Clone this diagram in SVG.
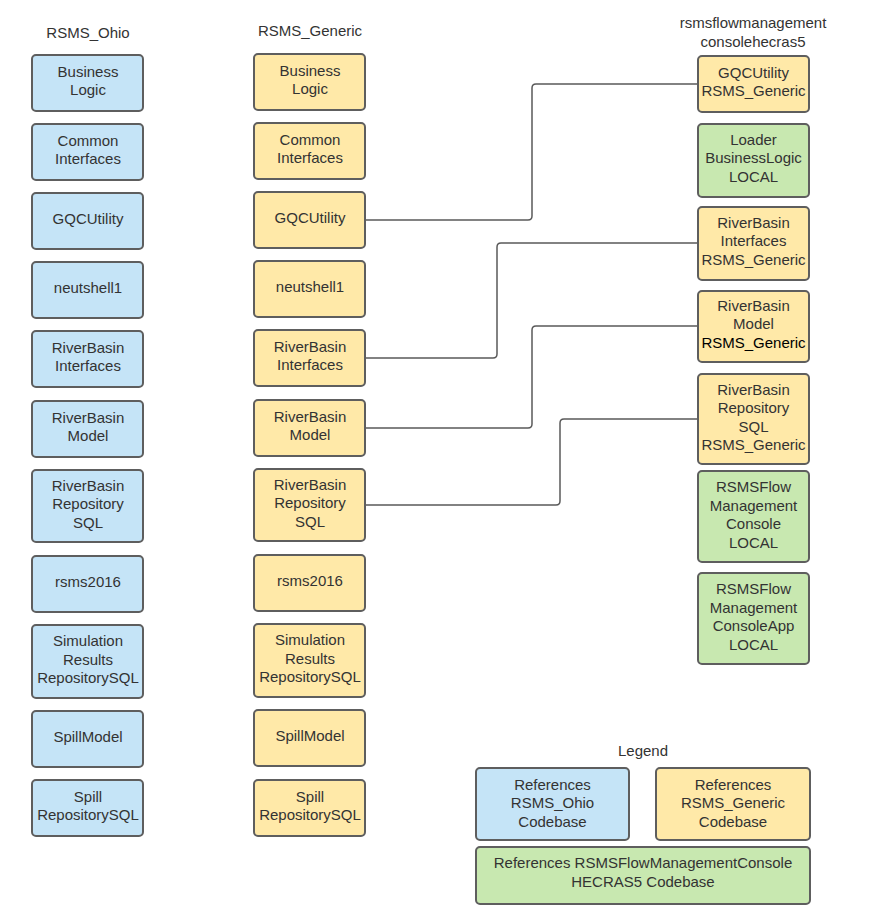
<svg xmlns="http://www.w3.org/2000/svg" width="875" height="913" viewBox="0 0 875 913">
<style>
.b{stroke:#5e5e5e;stroke-width:2;}
.blue{fill:#c5e4f7;}
.yel{fill:#ffe9a8;}
.grn{fill:#c8e8b0;}
text{font-family:"Liberation Sans",Arial,sans-serif;font-size:15px;fill:#333;text-anchor:middle;}
.h{font-size:15px;}
.c{fill:none;stroke:#5a5a5a;stroke-width:1.5;}
</style>
<rect width="875" height="913" fill="#fff"/>
<g id="headers">
<text class="h" x="88" y="38">RSMS_Ohio</text>
<text class="h" x="310" y="36">RSMS_Generic</text>
<text class="h" x="753" y="28">rsmsflowmanagement</text>
<text class="h" x="753" y="47">consolehecras5</text>
<text class="h" x="643" y="756">Legend</text>
</g>
<g id="connectors">
<path class="c" d="M366,220 H528 Q532,220 532,216 V88 Q532,84 536,84 H698"/>
<path class="c" d="M366,358 H493 Q497,358 497,354 V247 Q497,243 501,243 H698"/>
<path class="c" d="M366,428 H528 Q532,428 532,424 V330 Q532,326 536,326 H698"/>
<path class="c" d="M366,505 H556 Q560,505 560,501 V423 Q560,419 564,419 H698"/>
</g>
<!-- RSMS_Ohio column -->
<g id="ohio-businesslogic"><rect class="b blue" x="32" y="55" width="111" height="56" rx="4"/><text x="88" y="76.5">Business</text><text x="88" y="95">Logic</text></g>
<g id="ohio-commoninterfaces"><rect class="b blue" x="32" y="124" width="111" height="56" rx="4"/><text x="88" y="145.5">Common</text><text x="88" y="164">Interfaces</text></g>
<g id="ohio-gqcutility"><rect class="b blue" x="32" y="193" width="111" height="56" rx="4"/><text x="88" y="224">GQCUtility</text></g>
<g id="ohio-neutshell1"><rect class="b blue" x="32" y="262" width="111" height="56" rx="4"/><text x="88" y="293">neutshell1</text></g>
<g id="ohio-riverbasininterfaces"><rect class="b blue" x="32" y="331" width="111" height="56" rx="4"/><text x="88" y="352.5">RiverBasin</text><text x="88" y="371">Interfaces</text></g>
<g id="ohio-riverbasinmodel"><rect class="b blue" x="32" y="401" width="111" height="56" rx="4"/><text x="88" y="422.5">RiverBasin</text><text x="88" y="441">Model</text></g>
<g id="ohio-riverbasinrepositorysql"><rect class="b blue" x="32" y="470" width="111" height="72" rx="4"/><text x="88" y="490.5">RiverBasin</text><text x="88" y="509">Repository</text><text x="88" y="527.5">SQL</text></g>
<g id="ohio-rsms2016"><rect class="b blue" x="32" y="556" width="111" height="56" rx="4"/><text x="88" y="587">rsms2016</text></g>
<g id="ohio-simulationresults"><rect class="b blue" x="32" y="625" width="111" height="73" rx="4"/><text x="88" y="646">Simulation</text><text x="88" y="664.5">Results</text><text x="88" y="683">RepositorySQL</text></g>
<g id="ohio-spillmodel"><rect class="b blue" x="32" y="711" width="111" height="56" rx="4"/><text x="88" y="742">SpillModel</text></g>
<g id="ohio-spillrepositorysql"><rect class="b blue" x="32" y="780" width="111" height="56" rx="4"/><text x="88" y="801.5">Spill</text><text x="88" y="820">RepositorySQL</text></g>
<!-- RSMS_Generic column -->
<g id="gen-businesslogic"><rect class="b yel" x="254" y="54" width="111" height="56" rx="4"/><text x="310" y="75.5">Business</text><text x="310" y="94">Logic</text></g>
<g id="gen-commoninterfaces"><rect class="b yel" x="254" y="123" width="111" height="56" rx="4"/><text x="310" y="144.5">Common</text><text x="310" y="163">Interfaces</text></g>
<g id="gen-gqcutility"><rect class="b yel" x="254" y="192" width="111" height="56" rx="4"/><text x="310" y="223">GQCUtility</text></g>
<g id="gen-neutshell1"><rect class="b yel" x="254" y="261" width="111" height="56" rx="4"/><text x="310" y="292">neutshell1</text></g>
<g id="gen-riverbasininterfaces"><rect class="b yel" x="254" y="330" width="111" height="56" rx="4"/><text x="310" y="351.5">RiverBasin</text><text x="310" y="370">Interfaces</text></g>
<g id="gen-riverbasinmodel"><rect class="b yel" x="254" y="400" width="111" height="56" rx="4"/><text x="310" y="421.5">RiverBasin</text><text x="310" y="440">Model</text></g>
<g id="gen-riverbasinrepositorysql"><rect class="b yel" x="254" y="469" width="111" height="72" rx="4"/><text x="310" y="489.5">RiverBasin</text><text x="310" y="508">Repository</text><text x="310" y="526.5">SQL</text></g>
<g id="gen-rsms2016"><rect class="b yel" x="254" y="555" width="111" height="56" rx="4"/><text x="310" y="586">rsms2016</text></g>
<g id="gen-simulationresults"><rect class="b yel" x="254" y="624" width="111" height="73" rx="4"/><text x="310" y="645">Simulation</text><text x="310" y="663.5">Results</text><text x="310" y="682">RepositorySQL</text></g>
<g id="gen-spillmodel"><rect class="b yel" x="254" y="710" width="111" height="56" rx="4"/><text x="310" y="741">SpillModel</text></g>
<g id="gen-spillrepositorysql"><rect class="b yel" x="254" y="780" width="111" height="56" rx="4"/><text x="310" y="801.5">Spill</text><text x="310" y="820">RepositorySQL</text></g>
<!-- rsmsflowmanagementconsolehecras5 column -->
<g id="rf-gqcutility"><rect class="b yel" x="698" y="56" width="111" height="56" rx="4"/><text x="753.5" y="77.5">GQCUtility</text><text x="753.5" y="96">RSMS_Generic</text></g>
<g id="rf-loaderbusinesslogic"><rect class="b grn" x="698" y="124" width="111" height="73" rx="4"/><text x="753.5" y="144.5">Loader</text><text x="753.5" y="163">BusinessLogic</text><text x="753.5" y="181.5">LOCAL</text></g>
<g id="rf-riverbasininterfaces"><rect class="b yel" x="698" y="207" width="111" height="73" rx="4"/><text x="753.5" y="227.5">RiverBasin</text><text x="753.5" y="246">Interfaces</text><text x="753.5" y="264.5">RSMS_Generic</text></g>
<g id="rf-riverbasinmodel"><rect class="b yel" x="698" y="291" width="111" height="71" rx="4"/><text x="753.5" y="310.5">RiverBasin</text><text x="753.5" y="329">Model</text><text x="753.5" y="347.5" style="fill:#000">RSMS_Generic</text></g>
<g id="rf-riverbasinrepositorysql"><rect class="b yel" x="698" y="374" width="111" height="90" rx="4"/><text x="753.5" y="394.5">RiverBasin</text><text x="753.5" y="413">Repository</text><text x="753.5" y="431.5">SQL</text><text x="753.5" y="450">RSMS_Generic</text></g>
<g id="rf-rsmsflowmanagementconsole"><rect class="b grn" x="698" y="471" width="111" height="91" rx="4"/><text x="753.5" y="492">RSMSFlow</text><text x="753.5" y="510.5">Management</text><text x="753.5" y="529">Console</text><text x="753.5" y="547.5">LOCAL</text></g>
<g id="rf-rsmsflowmanagementconsoleapp"><rect class="b grn" x="698" y="573" width="111" height="91" rx="4"/><text x="753.5" y="594">RSMSFlow</text><text x="753.5" y="612.5">Management</text><text x="753.5" y="631">ConsoleApp</text><text x="753.5" y="649.5">LOCAL</text></g>
<!-- Legend -->
<g id="legend-ohio"><rect class="b blue" x="476" y="768" width="153" height="72" rx="4"/><text x="552.5" y="789.5">References</text><text x="552.5" y="808">RSMS_Ohio</text><text x="552.5" y="826.5">Codebase</text></g>
<g id="legend-generic"><rect class="b yel" x="656" y="768" width="154" height="72" rx="4"/><text x="733" y="789.5">References</text><text x="733" y="808">RSMS_Generic</text><text x="733" y="826.5">Codebase</text></g>
<g id="legend-hecras5"><rect class="b grn" x="476" y="847" width="334" height="57" rx="4"/><text x="643" y="868">References RSMSFlowManagementConsole</text><text x="643" y="886.5">HECRAS5 Codebase</text></g>
</svg>
